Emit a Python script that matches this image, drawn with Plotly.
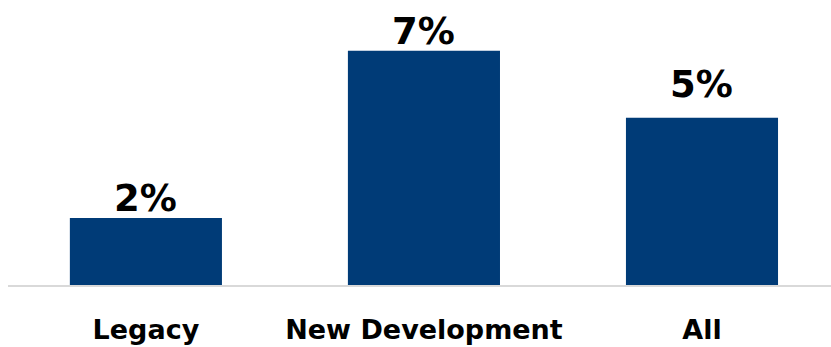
import plotly.graph_objects as go

categories = ["Legacy", "New Development", "All"]
values = [2, 7, 5]
labels = ["2%", "7%", "5%"]

# per-label vertical nudges (pixels), style only
label_shift = [-4, -4, 10]

fig = go.Figure(go.Bar(
    x=categories, y=values,
    marker=dict(color="#003B77", line=dict(width=0)),
    width=0.547, hoverinfo="skip",
))
for c, v, t, s in zip(categories, values, labels, label_shift):
    fig.add_annotation(
        x=c, y=v, text=t, showarrow=False, yanchor="bottom", yshift=s,
        font=dict(family="DejaVu Sans", size=37, color="black", weight="bold"),
    )
fig.update_layout(
    width=831, height=347,
    margin=dict(l=8, r=0, t=0, b=62),
    plot_bgcolor="white", paper_bgcolor="white",
    showlegend=False,
    xaxis=dict(range=[-0.496, 2.464], showline=True, linecolor="#D9D9D9", linewidth=2,
               showgrid=False, ticks="", ticklabelstandoff=20,
               tickfont=dict(family="DejaVu Sans", size=27, color="black", weight="bold")),
    yaxis=dict(range=[0, 8.52], visible=False, showgrid=False, zeroline=False),
)
fig.write_html("out.html")
